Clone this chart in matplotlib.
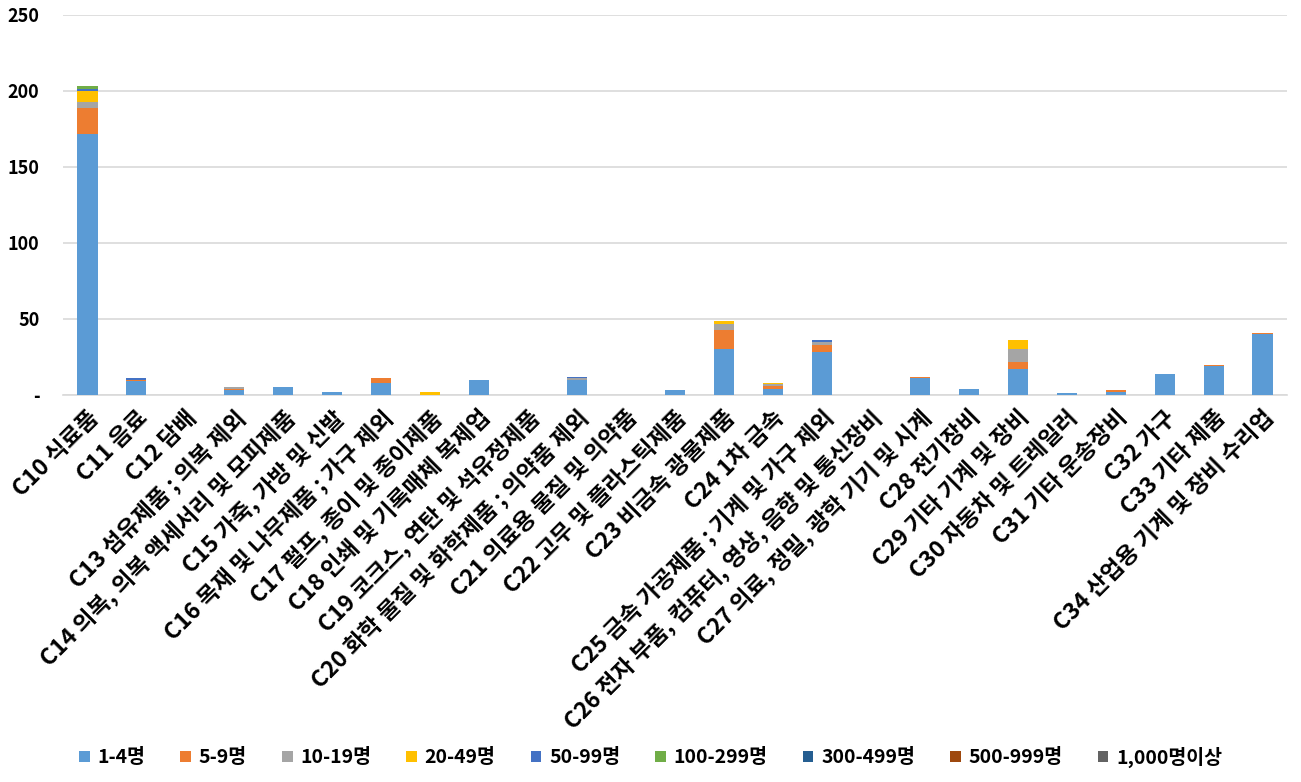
import matplotlib
matplotlib.use("Agg")
import matplotlib.pyplot as plt
import numpy as np

plt.rcParams['font.family'] = ['Noto Sans CJK KR', 'DejaVu Sans']

categories = [
    "C10 식료품", "C11 음료", "C12 담배", "C13 섬유제품 ; 의복 제외",
    "C14 의복, 의복 액세서리 및 모피제품", "C15 가죽, 가방 및 신발",
    "C16 목재 및 나무제품 ; 가구 제외", "C17 펄프, 종이 및 종이제품",
    "C18 인쇄 및 기록매체 복제업", "C19 코크스, 연탄 및 석유정제품",
    "C20 화학 물질 및 화학제품 ; 의약품 제외", "C21 의료용 물질 및 의약품",
    "C22 고무 및 플라스틱제품", "C23 비금속 광물제품", "C24 1차 금속",
    "C25 금속 가공제품 ; 기계 및 가구 제외",
    "C26 전자 부품, 컴퓨터, 영상, 음향 및 통신장비",
    "C27 의료, 정밀, 광학 기기 및 시계", "C28 전기장비", "C29 기타 기계 및 장비",
    "C30 자동차 및 트레일러", "C31 기타 운송장비", "C32 가구", "C33 기타 제품",
    "C34 산업용 기계 및 장비 수리업",
]

series_names = ["1-4명", "5-9명", "10-19명", "20-49명", "50-99명",
                "100-299명", "300-499명", "500-999명", "1,000명이상"]

#            C10 C11 C12 C13 C14 C15 C16 C17 C18 C19 C20 C21 C22 C23 C24 C25 C26 C27 C28 C29 C30 C31 C32 C33 C34
s_1_4     = [172, 9,  0,  3,  5,  2,  8,  0, 10,  0, 10,  0,  3, 30,  4, 28,  0, 11,  4, 17,  1,  2, 14, 19, 40]
s_5_9     = [17,  1,  0,  1,  0,  0,  3,  0,  0,  0,  0,  0,  0, 13,  2,  5,  0,  1,  0,  5,  0,  1,  0,  1,  1]
s_10_19   = [4,   0,  0,  1,  0,  0,  0,  0,  0,  0,  1,  0,  0,  4,  1,  2,  0,  0,  0,  8,  0,  0,  0,  0,  0]
s_20_49   = [7,   0,  0,  0,  0,  0,  0,  2,  0,  0,  0,  0,  0,  2,  1,  0,  0,  0,  0,  6,  0,  0,  0,  0,  0]
s_50_99   = [1,   1,  0,  0,  0,  0,  0,  0,  0,  0,  1,  0,  0,  0,  0,  1,  0,  0,  0,  0,  0,  0,  0,  0,  0]
s_100_299 = [2,   0,  0,  0,  0,  0,  0,  0,  0,  0,  0,  0,  0,  0,  0,  0,  0,  0,  0,  0,  0,  0,  0,  0,  0]
s_300_499 = [0] * 25
s_500_999 = [0] * 25
s_1000    = [0] * 25

series = [s_1_4, s_5_9, s_10_19, s_20_49, s_50_99, s_100_299, s_300_499, s_500_999, s_1000]
colors = ["#5B9BD5", "#ED7D31", "#A5A5A5", "#FFC000", "#4472C4",
          "#70AD47", "#255E91", "#9E480E", "#636363"]

yticks = [0, 50, 100, 150, 200, 250]
ytick_labels = ["-", "50", "100", "150", "200", "250"]

W, H = 1301, 782
fig = plt.figure(figsize=(W / 100, H / 100), dpi=100)
ax = fig.add_axes([63 / W, 1 - 395 / H, (1287 - 63) / W, (395 - 15) / H])

x = np.arange(len(categories))
bottom = np.zeros(len(categories))
handles = []
for name, vals, c in zip(series_names, series, colors):
    v = np.array(vals, dtype=float)
    b = ax.bar(x, v, bottom=bottom, width=0.41, color=c, label=name, zorder=3)
    bottom += v
    handles.append(b)

ax.set_xlim(-0.5, len(categories) - 0.5)
ax.set_ylim(0, 250)
ax.set_yticks(yticks)
ax.set_yticklabels(ytick_labels, fontsize=13, fontweight='bold')
ax.yaxis.grid(True, color="#D9D9D9", linewidth=1.2, zorder=0)
ax.set_axisbelow(True)
for s in ["top", "right", "left"]:
    ax.spines[s].set_visible(False)
ax.spines["bottom"].set_color("#D9D9D9")
ax.spines["bottom"].set_linewidth(1.2)
ax.tick_params(axis='y', length=0, pad=17)
ax.tick_params(axis='x', length=0, pad=8)
ax.set_xticks(x)
ax.set_xticklabels(categories, rotation=45, ha='right', rotation_mode='anchor',
                   fontsize=16.5, fontweight='bold')

fig.legend(handles=handles, labels=series_names, loc='center', ncol=9,
           bbox_to_anchor=(0.5, 1 - 757 / H), frameon=False,
           prop={'size': 14, 'weight': 'bold'},
           handlelength=0.55, handleheight=0.55, handletextpad=0.4, columnspacing=1.8)

fig.savefig("out.png", dpi=100, facecolor="white")
